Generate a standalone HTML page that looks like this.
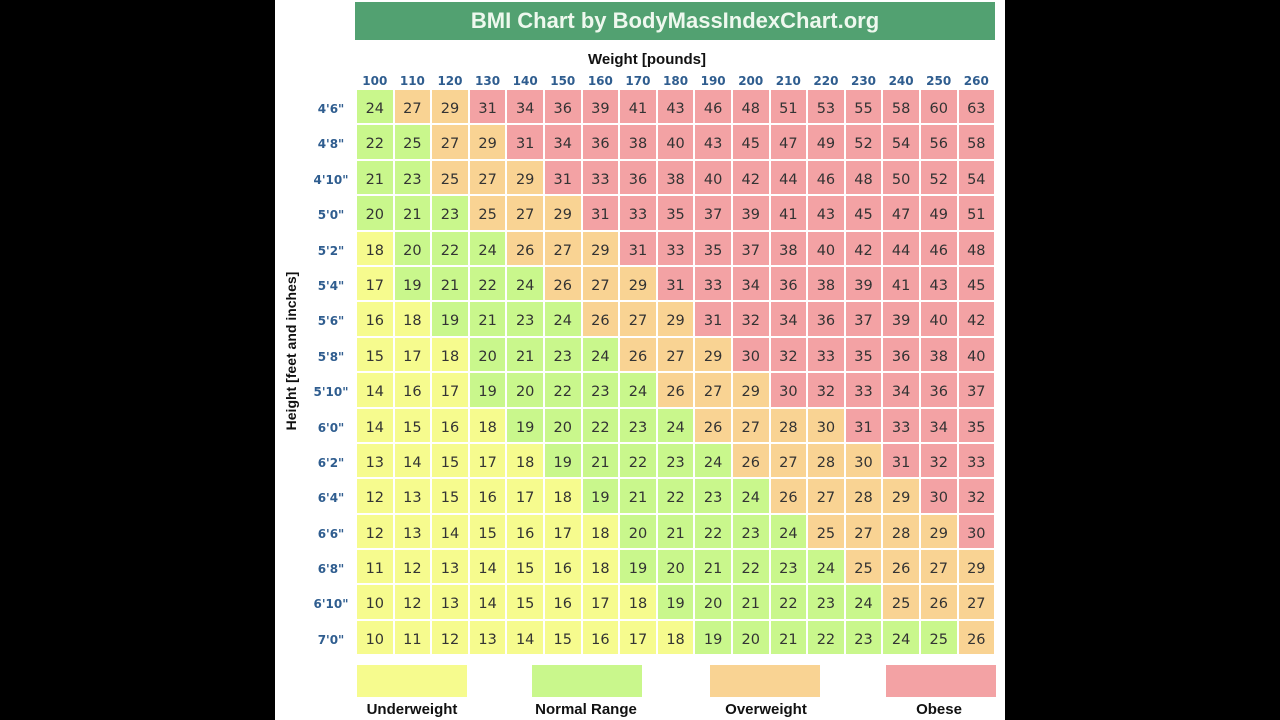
<!DOCTYPE html>
<html><head><meta charset="utf-8"><style>
body{margin:0;width:1280px;height:720px;background:#000;position:relative;overflow:hidden;font-family:"DejaVu Sans","Liberation Sans",sans-serif}
#pg{position:absolute;left:275px;top:0;width:730px;height:720px;background:#fff}
#title{position:absolute;left:355px;top:2px;width:640px;height:38px;background:#52a171;color:#eef8ee;font:bold 22px "Liberation Sans",sans-serif;text-align:center;line-height:38px}
#wl{position:absolute;left:497px;top:51px;width:300px;text-align:center;font:bold 15px "Liberation Sans",sans-serif;color:#111}
#hl{position:absolute;left:191px;top:343px;width:200px;text-align:center;font:bold 14px "Liberation Sans",sans-serif;color:#111;transform:rotate(-90deg)}
#cols{position:absolute;left:357px;top:74px;display:grid;grid-template-columns:repeat(17,35.6px);column-gap:2px;font:bold 12px "DejaVu Sans",sans-serif;color:#2f5d8f;text-align:center}
#rows{position:absolute;left:301px;top:93px;width:60px;font:bold 12px "DejaVu Sans",sans-serif;color:#2f5d8f}
#rows div{height:35.4px;line-height:33px;text-align:center}
#g{position:absolute;left:357px;top:90px;display:grid;grid-template-columns:repeat(17,35.6px);grid-auto-rows:33.4px;gap:2px;font-size:14.5px;color:#333;text-align:center}
#g span{line-height:38px}
.y{background:#f6fb8e}.g{background:#c9f78c}.o{background:#f9d393}.r{background:#f3a2a4}
.lb{position:absolute;top:665px;width:110px;height:32px}
.lt{position:absolute;top:701px;width:160px;text-align:center;font:bold 15px "Liberation Sans",sans-serif;color:#111}
</style></head><body>
<div id="pg"></div>
<div id="title">BMI Chart by BodyMassIndexChart.org</div>
<div id="wl">Weight [pounds]</div>
<div id="hl">Height [feet and inches]</div>
<div id="cols"><span>100</span><span>110</span><span>120</span><span>130</span><span>140</span><span>150</span><span>160</span><span>170</span><span>180</span><span>190</span><span>200</span><span>210</span><span>220</span><span>230</span><span>240</span><span>250</span><span>260</span></div>
<div id="rows"><div>4'6"</div><div>4'8"</div><div>4'10"</div><div>5'0"</div><div>5'2"</div><div>5'4"</div><div>5'6"</div><div>5'8"</div><div>5'10"</div><div>6'0"</div><div>6'2"</div><div>6'4"</div><div>6'6"</div><div>6'8"</div><div>6'10"</div><div>7'0"</div></div>
<div id="g">
<span class="g">24</span><span class="o">27</span><span class="o">29</span><span class="r">31</span><span class="r">34</span><span class="r">36</span><span class="r">39</span><span class="r">41</span><span class="r">43</span><span class="r">46</span><span class="r">48</span><span class="r">51</span><span class="r">53</span><span class="r">55</span><span class="r">58</span><span class="r">60</span><span class="r">63</span>
<span class="g">22</span><span class="g">25</span><span class="o">27</span><span class="o">29</span><span class="r">31</span><span class="r">34</span><span class="r">36</span><span class="r">38</span><span class="r">40</span><span class="r">43</span><span class="r">45</span><span class="r">47</span><span class="r">49</span><span class="r">52</span><span class="r">54</span><span class="r">56</span><span class="r">58</span>
<span class="g">21</span><span class="g">23</span><span class="o">25</span><span class="o">27</span><span class="o">29</span><span class="r">31</span><span class="r">33</span><span class="r">36</span><span class="r">38</span><span class="r">40</span><span class="r">42</span><span class="r">44</span><span class="r">46</span><span class="r">48</span><span class="r">50</span><span class="r">52</span><span class="r">54</span>
<span class="g">20</span><span class="g">21</span><span class="g">23</span><span class="o">25</span><span class="o">27</span><span class="o">29</span><span class="r">31</span><span class="r">33</span><span class="r">35</span><span class="r">37</span><span class="r">39</span><span class="r">41</span><span class="r">43</span><span class="r">45</span><span class="r">47</span><span class="r">49</span><span class="r">51</span>
<span class="y">18</span><span class="g">20</span><span class="g">22</span><span class="g">24</span><span class="o">26</span><span class="o">27</span><span class="o">29</span><span class="r">31</span><span class="r">33</span><span class="r">35</span><span class="r">37</span><span class="r">38</span><span class="r">40</span><span class="r">42</span><span class="r">44</span><span class="r">46</span><span class="r">48</span>
<span class="y">17</span><span class="g">19</span><span class="g">21</span><span class="g">22</span><span class="g">24</span><span class="o">26</span><span class="o">27</span><span class="o">29</span><span class="r">31</span><span class="r">33</span><span class="r">34</span><span class="r">36</span><span class="r">38</span><span class="r">39</span><span class="r">41</span><span class="r">43</span><span class="r">45</span>
<span class="y">16</span><span class="y">18</span><span class="g">19</span><span class="g">21</span><span class="g">23</span><span class="g">24</span><span class="o">26</span><span class="o">27</span><span class="o">29</span><span class="r">31</span><span class="r">32</span><span class="r">34</span><span class="r">36</span><span class="r">37</span><span class="r">39</span><span class="r">40</span><span class="r">42</span>
<span class="y">15</span><span class="y">17</span><span class="y">18</span><span class="g">20</span><span class="g">21</span><span class="g">23</span><span class="g">24</span><span class="o">26</span><span class="o">27</span><span class="o">29</span><span class="r">30</span><span class="r">32</span><span class="r">33</span><span class="r">35</span><span class="r">36</span><span class="r">38</span><span class="r">40</span>
<span class="y">14</span><span class="y">16</span><span class="y">17</span><span class="g">19</span><span class="g">20</span><span class="g">22</span><span class="g">23</span><span class="g">24</span><span class="o">26</span><span class="o">27</span><span class="o">29</span><span class="r">30</span><span class="r">32</span><span class="r">33</span><span class="r">34</span><span class="r">36</span><span class="r">37</span>
<span class="y">14</span><span class="y">15</span><span class="y">16</span><span class="y">18</span><span class="g">19</span><span class="g">20</span><span class="g">22</span><span class="g">23</span><span class="g">24</span><span class="o">26</span><span class="o">27</span><span class="o">28</span><span class="o">30</span><span class="r">31</span><span class="r">33</span><span class="r">34</span><span class="r">35</span>
<span class="y">13</span><span class="y">14</span><span class="y">15</span><span class="y">17</span><span class="y">18</span><span class="g">19</span><span class="g">21</span><span class="g">22</span><span class="g">23</span><span class="g">24</span><span class="o">26</span><span class="o">27</span><span class="o">28</span><span class="o">30</span><span class="r">31</span><span class="r">32</span><span class="r">33</span>
<span class="y">12</span><span class="y">13</span><span class="y">15</span><span class="y">16</span><span class="y">17</span><span class="y">18</span><span class="g">19</span><span class="g">21</span><span class="g">22</span><span class="g">23</span><span class="g">24</span><span class="o">26</span><span class="o">27</span><span class="o">28</span><span class="o">29</span><span class="r">30</span><span class="r">32</span>
<span class="y">12</span><span class="y">13</span><span class="y">14</span><span class="y">15</span><span class="y">16</span><span class="y">17</span><span class="y">18</span><span class="g">20</span><span class="g">21</span><span class="g">22</span><span class="g">23</span><span class="g">24</span><span class="o">25</span><span class="o">27</span><span class="o">28</span><span class="o">29</span><span class="r">30</span>
<span class="y">11</span><span class="y">12</span><span class="y">13</span><span class="y">14</span><span class="y">15</span><span class="y">16</span><span class="y">18</span><span class="g">19</span><span class="g">20</span><span class="g">21</span><span class="g">22</span><span class="g">23</span><span class="g">24</span><span class="o">25</span><span class="o">26</span><span class="o">27</span><span class="o">29</span>
<span class="y">10</span><span class="y">12</span><span class="y">13</span><span class="y">14</span><span class="y">15</span><span class="y">16</span><span class="y">17</span><span class="y">18</span><span class="g">19</span><span class="g">20</span><span class="g">21</span><span class="g">22</span><span class="g">23</span><span class="g">24</span><span class="o">25</span><span class="o">26</span><span class="o">27</span>
<span class="y">10</span><span class="y">11</span><span class="y">12</span><span class="y">13</span><span class="y">14</span><span class="y">15</span><span class="y">16</span><span class="y">17</span><span class="y">18</span><span class="g">19</span><span class="g">20</span><span class="g">21</span><span class="g">22</span><span class="g">23</span><span class="g">24</span><span class="g">25</span><span class="o">26</span>
</div>
<div class="lb y" style="left:357px"></div>
<div class="lb g" style="left:532px"></div>
<div class="lb o" style="left:710px"></div>
<div class="lb r" style="left:886px"></div>
<div class="lt" style="left:332px">Underweight</div>
<div class="lt" style="left:506px">Normal Range</div>
<div class="lt" style="left:686px">Overweight</div>
<div class="lt" style="left:859px">Obese</div>
</body></html>
